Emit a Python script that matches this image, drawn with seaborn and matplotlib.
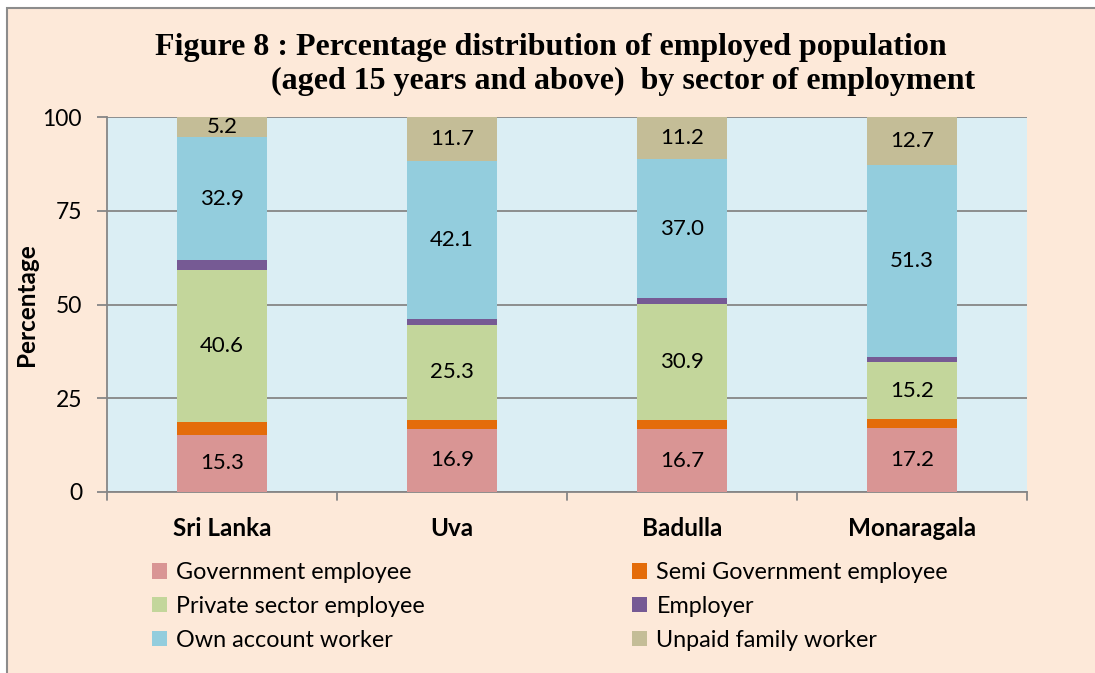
import matplotlib
matplotlib.use("Agg")
import matplotlib.pyplot as plt
import seaborn as sns
import numpy as np
from matplotlib.patches import Patch

# datos
regiones = ["Sri Lanka", "Uva", "Badulla", "Monaragala"]
sectores = ["Government employee", "Semi Government employee", "Private sector employee",
            "Employer", "Own account worker", "Unpaid family worker"]
gobierno = [15.3, 16.9, 16.7, 17.2]
semi_gobierno = [3.3, 2.4, 2.6, 2.2]
privado = [40.6, 25.3, 30.9, 15.2]
empleador = [2.6, 1.5, 1.5, 1.3]
cuenta_propia = [32.9, 42.1, 37.0, 51.3]
familiar = [5.2, 11.7, 11.2, 12.7]

series = [gobierno, semi_gobierno, privado, empleador, cuenta_propia, familiar]
colores = ["#D99594", "#E46C0A", "#C3D69B", "#765A94", "#93CDDD", "#C4BD97"]
con_etiqueta = [True, False, True, False, True, True]

sns.set_style("white")
plt.rcParams["font.family"] = ["Lato", "DejaVu Sans"]
plt.rcParams.update({"text.color": "black", "axes.labelcolor": "black",
                     "xtick.color": "black", "ytick.color": "black"})

fig = plt.figure(figsize=(10.95, 6.73), dpi=100, facecolor="white")
# marco exterior
fondo = plt.Rectangle((7 / 1095, -0.1), 1.2, 1 - 8 / 673 + 0.1, transform=fig.transFigure,
                      facecolor="#FDE9D9", edgecolor="#8C8C8C", linewidth=1.5, zorder=-5)
fig.patches.append(fondo)

ax = fig.add_axes([107 / 1095, 1 - 492 / 673, 920 / 1095, 375 / 673])
ax.set_facecolor("#DBEEF4")

base = np.zeros(len(regiones))
for valores, color, etiqueta in zip(series, colores, con_etiqueta):
    sns.barplot(x=regiones, y=valores, bottom=base, color=color, width=0.39,
                linewidth=0, saturation=1, ax=ax, zorder=3)
    if etiqueta:
        for i, v in enumerate(valores):
            ax.text(i, base[i] + v / 2, f"{v:.1f}", ha="center", va="center",
                    fontsize=16, color="black", zorder=4)
    base = base + np.array(valores)

ax.set_xlim(-0.5, 3.5)
ax.set_ylim(0, 100)
ax.set_yticks([0, 25, 50, 75, 100])
ax.yaxis.grid(True, color="#868686", linewidth=1.3, zorder=1)
ax.set_axisbelow(True)
for lado in ["top", "right"]:
    ax.spines[lado].set_visible(False)
for lado in ["left", "bottom"]:
    ax.spines[lado].set_color("#868686")
    ax.spines[lado].set_linewidth(1.3)

ax.tick_params(axis="y", length=7, width=1.3, color="#868686", labelcolor="black",
               labelsize=16.5, pad=11, left=True)
ax.set_xticks([0, 1, 2, 3])
ax.set_xticklabels(regiones, fontsize=17.5, fontweight="bold")
ax.tick_params(axis="x", length=0, pad=18, labelcolor="black")
# marcas entre categorias
for xb in [-0.5, 0.5, 1.5, 2.5, 3.5]:
    ax.plot([xb, xb], [0, -2], color="#868686", linewidth=1.3, clip_on=False, zorder=5)
ax.set_xlabel("")
ax.set_ylabel("Percentage", fontsize=17.5, fontweight="bold", color="black")
ax.yaxis.set_label_coords(-0.075, 0.5)

fig.text(155 / 1095, 1 - 47 / 673, "Figure 8 : Percentage distribution of employed population",
         fontsize=23, fontweight="bold", family="Liberation Serif", ha="left", va="center",
         color="black")
fig.text(975 / 1095, 1 - 81 / 673, "(aged 15 years and above)  by sector of employment",
         fontsize=23, fontweight="bold", family="Liberation Serif", ha="right", va="center",
         color="black")

mano1 = [Patch(facecolor=colores[i], edgecolor="none") for i in [0, 2, 4]]
mano2 = [Patch(facecolor=colores[i], edgecolor="none") for i in [1, 3, 5]]
leg1 = fig.legend(mano1, [sectores[i] for i in [0, 2, 4]], loc="upper left",
                  bbox_to_anchor=(131 / 1095, 1 - 541 / 673), frameon=False, fontsize=16.8,
                  handlelength=0.65, handleheight=0.65, handletextpad=0.4, labelspacing=0.55,
                  labelcolor="black")
leg2 = fig.legend(mano2, [sectores[i] for i in [1, 3, 5]], loc="upper left",
                  bbox_to_anchor=(611 / 1095, 1 - 541 / 673), frameon=False, fontsize=16.8,
                  handlelength=0.65, handleheight=0.65, handletextpad=0.4, labelspacing=0.55,
                  labelcolor="black")

fig.savefig("out.png", dpi=100, facecolor="white")
plt.close(fig)
